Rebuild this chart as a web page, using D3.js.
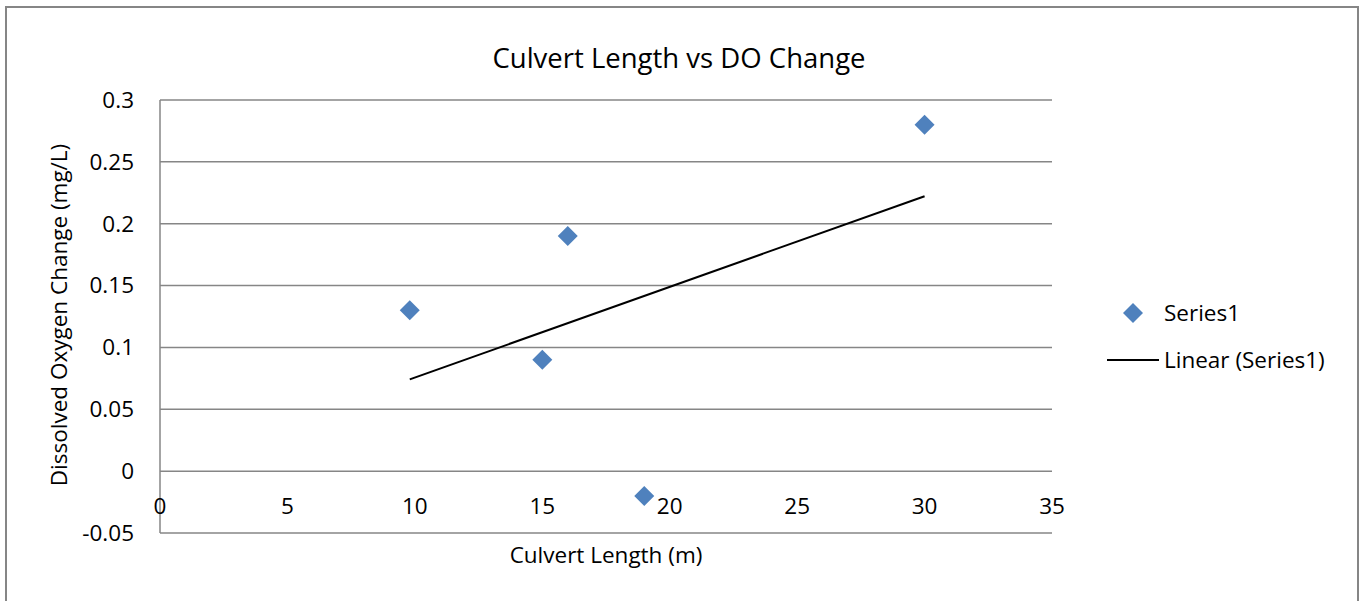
<!DOCTYPE html>
<html><head><meta charset="utf-8">
<script src="https://cdnjs.cloudflare.com/ajax/libs/d3/7.8.5/d3.min.js"></script>
<style>body{margin:0;background:#fff;} text{font-family:"Open Sans",sans-serif;fill:#000;}</style>
</head><body>
<svg id="c" width="1365" height="601"></svg>
<script>
const culvertLength = [9.8, 15, 16, 19, 30];
const doChange = [0.13, 0.09, 0.19, -0.02, 0.28];
const xTicks = [0, 5, 10, 15, 20, 25, 30, 35];
const yTicks = [-0.05, 0, 0.05, 0.1, 0.15, 0.2, 0.25, 0.3];
const seriesName = "Series1";
const trendName = "Linear (Series1)";

const svg = d3.select("#c");
svg.append("rect").attr("x",6).attr("y",7).attr("width",1352).attr("height",620)
  .attr("fill","#fff").attr("stroke","#868686").attr("stroke-width",2);

const x = d3.scaleLinear().domain([0,35]).range([160,1052]);
const y = d3.scaleLinear().domain([-0.05,0.3]).range([533,100]);

svg.append("g").selectAll("line").data(yTicks).join("line")
  .attr("x1",x(0)).attr("x2",x(35)).attr("y1",d=>y(d)).attr("y2",d=>y(d))
  .attr("stroke","#868686").attr("stroke-width",1.5);
svg.append("line").attr("x1",x(0)).attr("x2",x(0)).attr("y1",y(0.3)).attr("y2",y(-0.05))
  .attr("stroke","#868686").attr("stroke-width",1.5);

const fmt = d => String(+d.toFixed(2));
const FS = 22.5;
svg.append("g").selectAll("text").data(yTicks).join("text")
  .attr("x",134).attr("y",d=>y(d)).attr("dy","0.35em").attr("text-anchor","end")
  .attr("font-size",FS).text(d=>fmt(d));
svg.append("g").selectAll("text").data(xTicks).join("text")
  .attr("x",d=>x(d)).attr("y",y(0)+43).attr("text-anchor","middle")
  .attr("font-size",FS).text(d=>d);

const n = culvertLength.length;
const mx = d3.mean(culvertLength), my = d3.mean(doChange);
let sxy=0,sxx=0;
for(let i=0;i<n;i++){sxy+=(culvertLength[i]-mx)*(doChange[i]-my);sxx+=(culvertLength[i]-mx)**2;}
const slope=sxy/sxx, icpt=my-slope*mx;
const x0=d3.min(culvertLength), x1=d3.max(culvertLength);
svg.append("line").attr("x1",x(x0)).attr("y1",y(icpt+slope*x0)).attr("x2",x(x1)).attr("y2",y(icpt+slope*x1))
  .attr("stroke","#000").attr("stroke-width",2);

const diamond = d3.symbol().type(d3.symbolSquare).size(200);
svg.append("g").selectAll("path").data(culvertLength.map((v,i)=>[v,doChange[i]])).join("path")
  .attr("d",diamond).attr("transform",d=>`translate(${x(d[0])},${y(d[1])}) rotate(45)`)
  .attr("fill","#4F81BD");

svg.append("text").attr("x",679).attr("y",68).attr("text-anchor","middle").attr("font-size",27.5).text("Culvert Length vs DO Change");
svg.append("text").attr("x",606).attr("y",563).attr("text-anchor","middle").attr("font-size",FS).text("Culvert Length (m)");
svg.append("text").attr("transform","translate(67,315) rotate(-90)").attr("text-anchor","middle").attr("font-size",FS).text("Dissolved Oxygen Change (mg/L)");

svg.append("path").attr("d",diamond).attr("transform","translate(1133,313) rotate(45)").attr("fill","#4F81BD");
svg.append("text").attr("x",1164).attr("y",313).attr("dy","0.35em").attr("font-size",FS).text(seriesName);
svg.append("line").attr("x1",1107).attr("x2",1159).attr("y1",360).attr("y2",360).attr("stroke","#000").attr("stroke-width",2);
svg.append("text").attr("x",1164).attr("y",360).attr("dy","0.35em").attr("font-size",FS).text(trendName);
</script>
</body></html>
